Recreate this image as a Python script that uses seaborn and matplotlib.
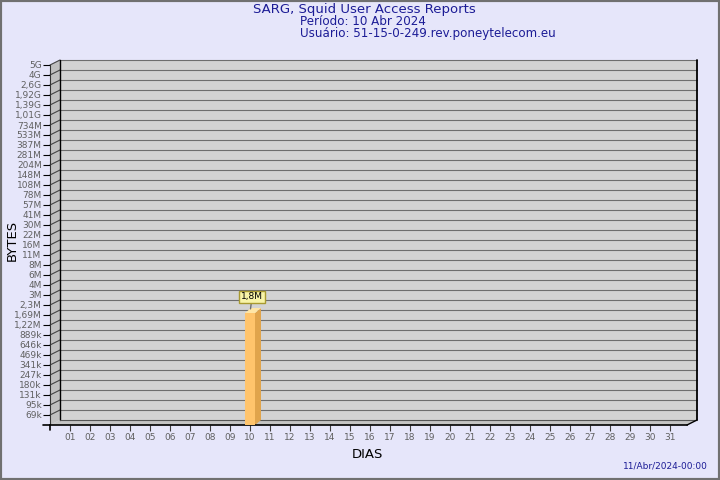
import numpy as np
import pandas as pd
import matplotlib
matplotlib.use("Agg")
import matplotlib.pyplot as plt
import seaborn as sns
from matplotlib.patches import Polygon, Rectangle

# ---------------- data ----------------
days = [f"{d:02d}" for d in range(1, 32)]
bar_days = ["10"]
bar_bytes = [1.8e6]
bar_labels = ["1,8M"]
ytick_labels = ["69k", "95k", "131k", "180k", "247k", "341k", "469k", "646k", "889k",
                "1,22M", "1,69M", "2,3M", "3M", "4M", "6M", "8M", "11M", "16M", "22M",
                "30M", "41M", "57M", "78M", "108M", "148M", "204M", "281M", "387M",
                "533M", "734M", "1,01G", "1,39G", "1,92G", "2,6G", "4G", "5G"]
title_main = "SARG, Squid User Access Reports"
title_period = "Período: 10 Abr 2024"
title_user = "Usuário: 51-15-0-249.rev.poneytelecom.eu"
footer_date = "11/Abr/2024-00:00"

# ---------------- style ----------------
sns.set_theme(style="white")
plt.rcParams["font.family"] = ["DejaVu Sans"]

W, H = 720, 480
BG = "#e6e6fa"
NAVY = "#1c1c96"
fig = plt.figure(figsize=(W / 100, H / 100), dpi=100, facecolor=BG)

# front plane in image pixel coords
FL, FR, FT, FB = 50, 687, 65, 425
DX, DY = 10, 5  # depth offset (right, up)

bg = fig.add_axes([0, 0, 1, 1], zorder=-1)
bg.set_xlim(0, W)
bg.set_ylim(H, 0)
bg.axis("off")
bg.set_facecolor("none")

ax = fig.add_axes([FL / W, (H - FB) / H, (FR - FL) / W, (FB - FT) / H], zorder=1)
ax.set_facecolor("none")
ax.set_yscale("log")

df = pd.DataFrame({"dia": bar_days, "bytes": bar_bytes})
sns.barplot(data=df, x="dia", y="bytes", order=days, color="#ffc46c",
            saturation=1, width=0.5, linewidth=0, ax=ax, zorder=3)

n = len(ytick_labels)
r = (5e9 / 69e3) ** (1 / (n - 1))
yticks = 69e3 * r ** np.arange(n)
ax.set_ylim(69e3 / r, yticks[-1])
ax.set_xlim(-1, 30.85)
ax.set_yticks(yticks, ytick_labels)
ax.minorticks_off()
ax.set_xticks(range(len(days)), days)

ax.tick_params(axis="y", length=5, width=0.8, color="black", labelsize=6.5,
               labelcolor="#606060", pad=1, left=True)
ax.tick_params(axis="x", length=4, width=0.8, color="#404040", labelsize=6.5,
               labelcolor="#606060", pad=2, bottom=True, direction="out")
for s in ["top", "right"]:
    ax.spines[s].set_visible(False)
ax.spines["left"].set_color("#333333")
ax.spines["left"].set_linewidth(0.8)
ax.spines["bottom"].set_color("black")
ax.spines["bottom"].set_linewidth(1.2)
ax.set_xlabel("")
ax.set_ylabel("")

fig.canvas.draw()

def to_img(x, y):
    px, py = ax.transData.transform((x, y))
    return px, H - py

# ---- 3D box: back wall, side wall, floor ----
bg.add_patch(Polygon([(FL + DX, FT - DY), (FR + DX, FT - DY), (FR + DX, FB - DY), (FL + DX, FB - DY)],
                     closed=True, facecolor="#d3d3d3", edgecolor="none", zorder=1))
bg.add_patch(Polygon([(FL, FT), (FL + DX, FT - DY), (FL + DX, FB - DY), (FL, FB)],
                     closed=True, facecolor="#c0c0c0", edgecolor="none", zorder=1))
bg.add_patch(Polygon([(FL, FB), (FL + DX, FB - DY), (FR + DX, FB - DY), (FR, FB)],
                     closed=True, facecolor="#c4c4c4", edgecolor="none", zorder=1))
for yv in yticks:
    _, iy = to_img(0, yv)
    bg.plot([FL + DX, FR + DX], [iy - DY, iy - DY], color="#6e6e6e", lw=0.8, zorder=2)
    bg.plot([FL, FL + DX], [iy, iy - DY], color="#444444", lw=0.8, zorder=2)
bg.plot([FL + DX, FL + DX], [FT - DY, FB - DY], color="black", lw=1.0, zorder=2)
bg.plot([FR + DX, FR + DX], [FT - DY, FB - DY], color="black", lw=1.3, zorder=2)
bg.plot([FL + DX, FR + DX], [FB - DY, FB - DY], color="#555555", lw=0.8, zorder=2)
bg.plot([FR, FR + DX], [FB, FB - DY], color="black", lw=1.0, zorder=2)
bg.plot([FL, FL], [FB, FB + 5], color="black", lw=1.2, zorder=2)
bg.plot([FL - 7, FL], [FB, FB], color="black", lw=1.2, zorder=2)

# ---- bar side/top faces + labels ----
bdx, bdy = 6, 5
for patch, lab in zip([p for p in ax.patches if p.get_height() > 0], bar_labels):
    x0, w, top = patch.get_x(), patch.get_width(), patch.get_y() + patch.get_height()
    xl, yt = to_img(x0, top)
    xr, yb = to_img(x0 + w, ax.get_ylim()[0])
    side = [(xr, yt), (xr + bdx, yt - bdy), (xr + bdx, yb - bdy), (xr, yb)]
    topf = [(xl, yt), (xl + bdx, yt - bdy), (xr + bdx, yt - bdy), (xr, yt)]
    bg.add_patch(Polygon(side, closed=True, facecolor="#e0a44c", edgecolor="none", zorder=4))
    bg.add_patch(Polygon(topf, closed=True, facecolor="#ffe6a6", edgecolor="none", zorder=4))
    cx = x0 + w / 2
    ax.annotate(lab, xy=(cx, top), xycoords="data",
                xytext=(2, 16), textcoords="offset pixels",
                ha="center", va="center", fontsize=6.5, color="black",
                bbox=dict(boxstyle="square,pad=0.2", facecolor="#f8f4a8",
                          edgecolor="#a89a30", lw=1),
                arrowprops=dict(arrowstyle="-", color="#707070", lw=1,
                                shrinkA=0, shrinkB=3),
                zorder=5, annotation_clip=False)

# ---- texts ----
fig.text(253 / W, 1 - 10 / H, title_main, fontsize=9.5, color=NAVY, ha="left", va="center")
fig.text(300 / W, 1 - 21.5 / H, title_period, fontsize=8.6, color=NAVY, ha="left", va="center")
fig.text(300 / W, 1 - 33.5 / H, title_user, fontsize=8.6, color=NAVY, ha="left", va="center")
fig.text(12 / W, 1 - 240 / H, "BYTES", fontsize=9.5, color="black", rotation=90,
         ha="center", va="center")
fig.text(367 / W, 1 - 455 / H, "DIAS", fontsize=9.5, color="black", ha="center", va="center")
fig.text(708 / W, 1 - 466 / H, footer_date, fontsize=6.5, color=NAVY, ha="right", va="center")

# figure border
fig.add_artist(Rectangle((0, 0), 1, 1, transform=fig.transFigure, fill=False,
                         edgecolor="#707070", lw=3))

fig.savefig("out.png", dpi=100, facecolor=BG)
